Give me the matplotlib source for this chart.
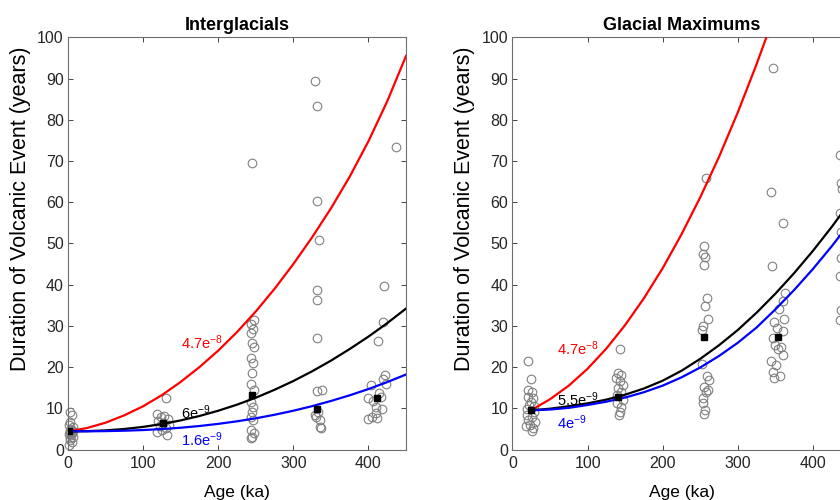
"""Eruption duration vs age for interglacial and glacial-maximum samples."""

import matplotlib
matplotlib.use("Agg")
import matplotlib.pyplot as plt

plt.rcParams["font.family"] = ["Liberation Sans", "DejaVu Sans"]
plt.rcParams["mathtext.fontset"] = "custom"
plt.rcParams["mathtext.rm"] = "Liberation Sans"
plt.rcParams["mathtext.default"] = "rm"

# --- Interglacials: individual durations (years) by age (ka)
IG_AGE = [
    2, 5, 3, 1, 6, 4, 2, 7, 3, 5, 1, 4, 6, 2, 3, 5, 1,
    131, 118, 128, 124, 133, 120, 127, 135, 122, 130, 125, 119, 132,
    245, 247, 244, 246, 243, 245, 247, 244, 246, 245, 243, 247, 244, 246,
    245, 243, 246, 244, 247, 245, 243,
    329, 331, 331, 334, 332, 332, 331, 332, 338, 333, 329, 335, 336, 337, 330,
    437, 420, 419, 412, 422, 419, 403, 423, 400, 406, 417, 418, 410, 400,
    405, 411, 410, 414,
]
IG_DURATION = [
    9.0, 8.3, 6.6, 6.0, 5.4, 5.0, 4.8, 4.5, 4.2, 4.0, 3.8, 3.4, 3.1, 2.8, 2.2, 1.8, 1.2,
    12.6, 8.6, 8.2, 7.8, 7.3, 6.9, 6.4, 6.0, 5.6, 5.2, 4.8, 4.2, 3.6,
    69.4, 31.4, 30.4, 29.2, 28.2, 25.8, 24.9, 22.2, 20.9, 18.5, 15.8, 14.4, 11.6, 10.4,
    9.2, 8.0, 7.2, 4.7, 3.9, 3.1, 2.7,
    89.5, 83.3, 60.4, 50.8, 38.7, 36.3, 27.0, 14.3, 14.4, 9.2, 8.4, 7.2, 5.5, 5.1, 8.0,
    73.3, 39.7, 31.0, 26.4, 18.1, 17.0, 15.6, 16.0, 12.4, 11.8, 12.8, 9.75, 10.2, 7.3,
    7.8, 7.6, 8.9, 13.8,
]
IG_MEAN_AGE = [1, 126, 245, 331, 411.6]
IG_MEAN = [4.4, 6.5, 13.2, 9.75, 12.6]

IG_CURVE_AGE = [0, 25, 50, 75, 100, 125, 150, 175, 200, 225, 250, 275, 300,
                325, 350, 375, 400, 425, 450]
IG_RED = [4.4, 5.2, 6.5, 8.3, 10.5, 13.2, 16.4, 20.0, 24.0, 28.5, 33.5, 39.0,
          45.0, 51.5, 58.5, 66.2, 74.8, 84.5, 95.5]
IG_BLACK = [4.4, 4.45, 4.64, 4.98, 5.49, 6.18, 7.06, 8.13, 9.41, 10.88, 12.57,
            14.50, 16.62, 18.98, 21.56, 24.38, 27.40, 30.67, 34.2]
IG_BLUE = [4.4, 4.41, 4.46, 4.56, 4.72, 4.96, 5.28, 5.70, 6.22, 6.84, 7.57,
           8.43, 9.41, 10.52, 11.77, 13.15, 14.67, 16.36, 18.2]
IG_RATES = ["4.7", "6", "1.6"]
IG_RATE_EXP = ["-8", "-9", "-9"]

# --- Glacial maximums
GM_AGE = [
    21, 24.6, 20, 25.5, 21, 27.6, 24.6, 22, 29, 19, 29, 19, 26, 21, 30, 23, 17.5, 27.6, 25.5,
    142.7, 140.5, 145, 138.4, 142.7, 147, 140.5, 145, 139.7, 147, 139.7, 145, 142.7, 141.4,
    258, 254.3, 253.4, 256.6, 254.3, 259.2, 256.6, 260, 253.4, 252, 252, 259.2, 261,
    254.7, 259.7, 257, 253.4, 253.4, 256.6, 254.3,
    347, 344.6, 359.7, 345.5, 362.8, 359.7, 354.3, 347.7, 361.9, 359.7, 351.7, 346.4,
    350, 357.5, 353, 359.7, 344.6, 350.8, 347.3, 356.2, 348.6,
    436, 437, 439, 436, 438, 437, 436, 437, 436,
]
GM_DURATION = [
    21.5, 17.1, 14.4, 14.0, 12.8, 12.4, 11.6, 10.8, 10.6, 9.8, 9.0, 8.4, 8.0, 7.2, 6.7,
    5.9, 5.7, 5.1, 4.6,
    24.3, 18.6, 18.1, 17.3, 16.5, 15.6, 14.8, 14.0, 13.2, 12.0, 11.2, 10.2, 9.2, 8.4,
    65.9, 49.4, 47.4, 46.6, 44.8, 36.7, 34.8, 31.6, 30.0, 29.0, 20.7, 17.8, 16.9,
    15.2, 14.4, 14.0, 12.4, 11.3, 9.6, 8.6,
    92.5, 62.5, 54.9, 44.4, 37.9, 36.1, 34.2, 30.9, 31.6, 28.7, 29.4, 27.0,
    25.4, 24.9, 24.3, 22.9, 21.5, 20.5, 18.9, 17.8, 17.3,
    71.4, 64.6, 63.3, 57.3, 52.8, 46.4, 42.1, 33.8, 31.4,
]
GM_MEAN_AGE = [24.5, 140.5, 255.6, 354, 445]
GM_MEAN = [9.6, 12.8, 27.2, 27.2, 48.0]

GM_CURVE_AGE = [24.5, 50, 75, 100, 125, 150, 175, 200, 225, 250, 275, 300,
                325, 350, 375, 400, 425, 450]
GM_RED = [9.5, 12.2, 15.5, 19.6, 24.5, 30.2, 36.7, 44.0, 52.2, 61.2, 71.0, 81.8,
          93.5, 106.0, 119.5, 134.0, 149.5, 166.0]
GM_BLACK = [9.5, 9.9, 10.5, 11.2, 12.1, 13.3, 14.8, 16.7, 19.1, 22.0, 25.3, 29.0,
            33.2, 37.8, 42.8, 48.2, 54.0, 60.2]
GM_BLUE = [9.5, 9.7, 10.1, 10.8, 11.6, 12.6, 13.9, 15.5, 17.5, 19.9, 22.7, 25.9,
           29.6, 34.0, 38.7, 43.8, 49.3, 55.2]
GM_RATES = ["4.7", "5.5", "4"]
GM_RATE_EXP = ["-8", "-9", "-9"]

LINE_COLORS = ["#ff0000", "#000000", "#0000ff"]


def _draw_panel(ax, title, ages, durations, mean_age, mean, curve_age, curves,
                rates, exps, label_pos):
    ax.plot(ages, durations, linestyle="none", marker="o", markersize=6.2,
            markerfacecolor="none", markeredgecolor="#808080",
            markeredgewidth=0.8, clip_on=False, zorder=2)
    for values, color in zip(curves, LINE_COLORS):
        ax.plot(curve_age, values, color=color, linewidth=1.6, zorder=3)
    ax.plot(mean_age, mean, linestyle="none", marker="s", markersize=5,
            color="black", zorder=4)

    for (x, y), rate, exp, color in zip(label_pos, rates, exps, LINE_COLORS):
        ax.text(x, y, rf"{rate}e$^{{{exp}}}$", color=color, fontsize=10.5,
                ha="left", va="center", zorder=5)

    ax.set_xlim(0, 450)
    ax.set_ylim(0, 100)
    ax.set_xticks([0, 100, 200, 300, 400])
    ax.set_yticks(range(0, 101, 10))
    ax.tick_params(direction="in", length=3.5, width=0.6, labelsize=11.5,
                   top=True, right=True, colors="#262626", pad=3)
    ax.tick_params(axis="x", pad=5)
    for spine in ax.spines.values():
        spine.set_color("#6e6e6e")
        spine.set_linewidth(0.8)
    ax.set_title(title, fontsize=13, fontweight="bold", pad=5)
    ax.set_xlabel("Age (ka)", fontsize=12.5, labelpad=10)
    ax.set_ylabel("Duration of Volcanic Event (years)", fontsize=15.5)
    ax.yaxis.set_label_coords(-0.11, 0.585)


def main():
    fig = plt.figure(figsize=(8.4, 5.0), dpi=100)
    ax_ig = fig.add_axes([0.081, 0.101, 0.4024, 0.8244])
    ax_gm = fig.add_axes([0.6101, 0.101, 0.4024, 0.8244])

    _draw_panel(ax_ig, "Interglacials", IG_AGE, IG_DURATION, IG_MEAN_AGE,
                IG_MEAN, IG_CURVE_AGE, [IG_RED, IG_BLACK, IG_BLUE], IG_RATES,
                IG_RATE_EXP, [(151, 26.0), (151, 9.0), (151, 2.4)])
    _draw_panel(ax_gm, "Glacial Maximums", GM_AGE, GM_DURATION, GM_MEAN_AGE,
                GM_MEAN, GM_CURVE_AGE, [GM_RED, GM_BLACK, GM_BLUE], GM_RATES,
                GM_RATE_EXP, [(59, 24.4), (59, 12.0), (59, 6.4)])

    fig.savefig("out.png", dpi=100)
    plt.close(fig)


if __name__ == "__main__":
    main()
